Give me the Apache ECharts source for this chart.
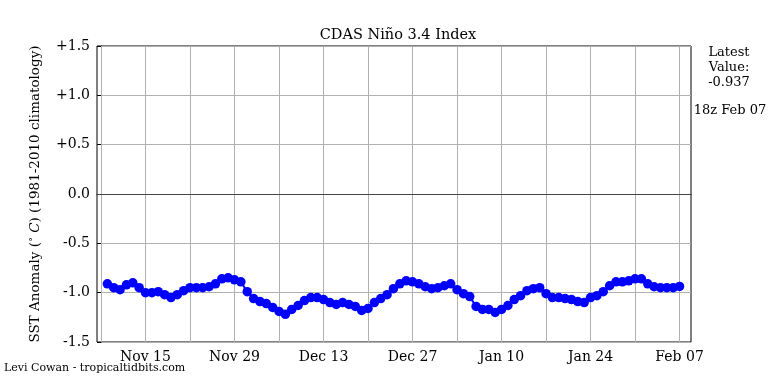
<!DOCTYPE html>
<html>
<head>
<meta charset="utf-8">
<script src="https://cdn.jsdelivr.net/npm/echarts@6/dist/echarts.min.js"></script>
<style>html,body{margin:0;padding:0;background:#fff}#c{width:768px;height:384px}</style>
</head>
<body>
<div id="c"></div>
<script>
// Day offsets are counted from Nov 08
var startDay = 1; // first observation: Nov 09
var values = [
 -0.91,-0.95,-0.97,-0.92,-0.90,-0.95,-1.00,-1.00,-0.99,-1.02,
 -1.05,-1.02,-0.98,-0.95,-0.95,-0.95,-0.94,-0.91,-0.86,-0.85,
 -0.87,-0.89,-0.99,-1.06,-1.09,-1.11,-1.15,-1.19,-1.22,-1.17,
 -1.13,-1.08,-1.05,-1.05,-1.07,-1.10,-1.12,-1.10,-1.12,-1.14,
 -1.18,-1.16,-1.10,-1.06,-1.02,-0.96,-0.91,-0.88,-0.89,-0.91,
 -0.94,-0.96,-0.95,-0.93,-0.91,-0.97,-1.01,-1.04,-1.14,-1.17,
 -1.17,-1.20,-1.17,-1.13,-1.07,-1.03,-0.98,-0.96,-0.95,-1.01,
 -1.05,-1.05,-1.06,-1.07,-1.09,-1.10,-1.05,-1.03,-0.99,-0.93,
 -0.89,-0.89,-0.88,-0.86,-0.86,-0.91,-0.94,-0.95,-0.95,-0.95,
 -0.937
];
var tickDays = [0,7,14,21,28,35,42,49,56,63,70,77,84,91];
var labelDays = [7,21,35,49,63,77,91];
var labelTexts = ['Nov 15','Nov 29','Dec 13','Dec 27','Jan 10','Jan 24','Feb 07'];

var seriesData = values.map(function(v,i){ return [startDay + i, v]; });
var serif = 'DejaVu Serif';

var chart = echarts.init(document.getElementById('c'), null, {renderer:'canvas'});
chart.setOption({
  animation:false,
  backgroundColor:'#fff',
  title:{
    text:'CDAS Niño 3.4 Index', left:393, top:23, textAlign:'center',
    textStyle:{fontFamily:serif, fontSize:14.5, fontWeight:'normal', color:'#000'}
  },
  grid:{left:97, right:77, top:46, bottom:42, show:true, borderColor:'#000', borderWidth:1, backgroundColor:'transparent'},
  xAxis:{
    type:'value', min:-0.63, max:92.8,
    axisLine:{show:true, lineStyle:{color:'#000', width:1}},
    axisTick:{show:true, inside:false, length:4, customValues:tickDays, lineStyle:{color:'#000'}},
    axisLabel:{show:true, customValues:labelDays, margin:8,
      formatter:function(v){ var i = labelDays.indexOf(Math.round(v)); return i>=0 ? labelTexts[i] : ''; },
      fontFamily:serif, fontSize:14, color:'#000'},
    splitLine:{show:false}
  },
  yAxis:{
    type:'value', min:-1.5, max:1.5, interval:0.5,
    name:'{a|SST Anomaly (}{s|°}{i| C}{a|) (1981-2010 climatology)}',
    nameLocation:'middle', nameGap:55,
    nameTextStyle:{fontFamily:serif, fontSize:13.5, color:'#000',
      rich:{a:{fontFamily:serif,fontSize:13.5,color:'#000'}, s:{fontFamily:serif,fontSize:10,color:'#000',verticalAlign:'top'}, i:{fontFamily:serif,fontSize:13.5,fontStyle:'italic',color:'#000'}}},
    axisLine:{show:true, lineStyle:{color:'#000', width:1}},
    axisTick:{show:true, inside:false, length:4, lineStyle:{color:'#000'}},
    axisLabel:{margin:7, fontFamily:serif, fontSize:14, color:'#000',
      formatter:function(v){ if (Math.abs(v)<1e-9) return '0.0'; return (v>0?'+':'') + v.toFixed(1); }},
    splitLine:{show:true, lineStyle:{color:'#b0b0b0', width:1}}
  },
  series:[
    {
      type:'line', data:[], z:1, silent:true,
      markLine:{
        silent:true, symbol:'none', animation:false,
        label:{show:false},
        lineStyle:{color:'#b0b0b0', width:1, type:'solid'},
        data: tickDays.map(function(d){ return {xAxis:d}; }).concat([
          {yAxis:0, lineStyle:{color:'#444', width:1.2, type:'solid'}}
        ])
      }
    },
    {
      type:'line', data:seriesData, z:5,
      symbol:'circle', symbolSize:9.5, showSymbol:true,
      lineStyle:{color:'#0000ff', width:2},
      itemStyle:{color:'#0000ff', borderWidth:0}
    }
  ],
  graphic:[
    {type:'text', x:729, y:45, style:{text:'Latest\nValue:\n-0.937', fill:'#000', font:'13px "DejaVu Serif"', align:'center', lineHeight:15}},
    {type:'text', x:730, y:104, style:{text:'18z Feb 07', fill:'#000', font:'13px "DejaVu Serif"', align:'center'}},
    {type:'text', x:4, y:363, style:{text:'Levi Cowan - tropicaltidbits.com', fill:'#000', font:'11px "DejaVu Serif"', align:'left'}}
  ]
});
</script>
</body>
</html>
